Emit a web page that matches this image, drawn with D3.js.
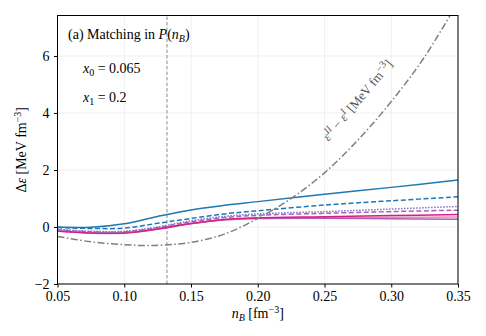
<!DOCTYPE html>
<html>
<head>
<meta charset="utf-8">
<script src="https://cdn.jsdelivr.net/npm/d3@7"></script>
<style>
  body { margin: 0; background: #fff; }
</style>
</head>
<body>
<div id="chart"></div>
<script>
// density grid (fm^-3)
const nB = [0.05, 0.075, 0.10, 0.125, 0.15, 0.175, 0.20, 0.25, 0.30, 0.35];

// Delta epsilon curves [MeV fm^-3]
const blueSolid    = [0.00, -0.01, 0.11, 0.37, 0.60, 0.76, 0.89, 1.15, 1.39, 1.65];
const blueDashed   = [-0.02, -0.05, -0.04, 0.13, 0.30, 0.46, 0.57, 0.77, 0.92, 1.06];
const purpleDotted = [-0.08, -0.15, -0.15, 0.00, 0.22, 0.37, 0.46, 0.54, 0.63, 0.72];
const purpleDashed = [-0.10, -0.17, -0.17, -0.02, 0.18, 0.33, 0.41, 0.48, 0.54, 0.59];
const pinkSolid    = [-0.14, -0.21, -0.21, -0.07, 0.12, 0.26, 0.32, 0.36, 0.40, 0.44];
const lightPink    = [-0.15, -0.22, -0.22, -0.08, 0.11, 0.25, 0.31, 0.33, 0.34, 0.35];
const purpleSolid  = [-0.13, -0.20, -0.20, -0.06, 0.12, 0.25, 0.30, 0.31, 0.29, 0.27];

// epsilon^II - epsilon^I
const nBdiff = [0.05, 0.075, 0.10, 0.115, 0.13, 0.15, 0.175, 0.20, 0.225, 0.25, 0.275, 0.30, 0.325, 0.35];
const epsDiff = [-0.33, -0.52, -0.62, -0.65, -0.63, -0.54, -0.25, 0.30, 1.0, 1.9, 3.05, 4.4, 5.97, 7.9];

const nMatch = 0.132;
const xTicks = [0.05, 0.10, 0.15, 0.20, 0.25, 0.30, 0.35];
const yTicks = [-2, 0, 2, 4, 6];

const series = [
  { vals: lightPink, color: "#ea8cc0", dash: null },
  { vals: purpleSolid, color: "#b45ab4", dash: null },
  { vals: pinkSolid, color: "#d6207f", dash: null },
  { vals: purpleDashed, color: "#a462b8", dash: "5,2.5" },
  { vals: purpleDotted, color: "#8670c6", dash: "1.5,1.5" },
  { vals: blueDashed, color: "#1f77b4", dash: "5,2.5" },
  { vals: blueSolid, color: "#1f77b4", dash: null },
];

const width = 486, height = 336;
const margin = { top: 15.5, right: 28, bottom: 52, left: 57.5 };
const serif = "'Liberation Serif', serif";
const fs = 14, fsSub = 10;

const svg = d3.select("#chart").append("svg")
  .attr("width", width).attr("height", height)
  .attr("font-family", serif);

const x = d3.scaleLinear().domain([0.05, 0.35]).range([margin.left, width - margin.right]);
const y = d3.scaleLinear().domain([-2, 7.42]).range([height - margin.bottom, margin.top]);

svg.append("clipPath").attr("id", "clip").append("rect")
  .attr("x", margin.left).attr("y", margin.top)
  .attr("width", x(0.35) - x(0.05)).attr("height", y(-2) - y(7.42));

// faint grid
const grid = svg.append("g").attr("stroke", "#ececec").attr("stroke-width", 0.8);
grid.selectAll(".gx").data(xTicks).enter().append("line")
  .attr("x1", d => x(d)).attr("x2", d => x(d))
  .attr("y1", y(-2)).attr("y2", y(7.42));
grid.selectAll(".gy").data(yTicks).enter().append("line")
  .attr("x1", x(0.05)).attr("x2", x(0.35))
  .attr("y1", d => y(d)).attr("y2", d => y(d));

const plot = svg.append("g").attr("clip-path", "url(#clip)");

// matching density
plot.append("line")
  .attr("x1", x(nMatch)).attr("x2", x(nMatch))
  .attr("y1", y(-2)).attr("y2", y(7.42))
  .attr("stroke", "#8c8c8c").attr("stroke-width", 1)
  .attr("stroke-dasharray", "3.5,2");

const line = d3.line().x((d, i) => x(nB[i])).y(d => y(d)).curve(d3.curveCatmullRom.alpha(0.5));

plot.selectAll(".curve").data(series).enter().append("path")
  .attr("d", d => line(d.vals))
  .attr("fill", "none")
  .attr("stroke", d => d.color)
  .attr("stroke-width", 1.5)
  .attr("stroke-dasharray", d => d.dash);

const diffLine = d3.line().x((d, i) => x(nBdiff[i])).y(d => y(d)).curve(d3.curveCatmullRom.alpha(0.5));
plot.append("path")
  .attr("d", diffLine(epsDiff))
  .attr("fill", "none")
  .attr("stroke", "#7f7f7f")
  .attr("stroke-width", 1.5)
  .attr("stroke-dasharray", "7,2.5,1.5,2.5");

// axes
const xAxis = svg.append("g")
  .attr("transform", `translate(0,${y(-2)})`)
  .call(d3.axisBottom(x).tickValues(xTicks).tickFormat(d3.format(".2f")).tickSize(3.5).tickSizeOuter(0));
const yAxis = svg.append("g")
  .attr("transform", `translate(${x(0.05)},0)`)
  .call(d3.axisLeft(y).tickValues(yTicks).tickFormat(d => d < 0 ? "\u2212" + Math.abs(d) : d).tickSize(3.5).tickSizeOuter(0));
[xAxis, yAxis].forEach(a => {
  a.attr("font-family", serif);
  a.select(".domain").remove();
  a.selectAll("text").attr("font-size", fs).attr("fill", "#000");
  a.selectAll("line").attr("stroke", "#000");
});
xAxis.selectAll("text").attr("dy", "0.72em");
yAxis.selectAll("text").attr("dx", "-0.1em");

svg.append("rect")
  .attr("x", x(0.05)).attr("y", y(7.42))
  .attr("width", x(0.35) - x(0.05)).attr("height", y(-2) - y(7.42))
  .attr("fill", "none").attr("stroke", "#000").attr("stroke-width", 1);

// labels
const xl = svg.append("text").attr("x", (x(0.05) + x(0.35)) / 2).attr("y", 318)
  .attr("text-anchor", "middle").attr("font-size", fs);
xl.append("tspan").attr("font-style", "italic").text("n");
xl.append("tspan").attr("font-style", "italic").attr("font-size", fsSub).attr("dy", 3).text("B");
xl.append("tspan").attr("dy", -3).text(" [fm");
xl.append("tspan").attr("font-size", fsSub).attr("dy", -5).text("\u22123");
xl.append("tspan").attr("dy", 5).text("]");

const yl = svg.append("text")
  .attr("transform", `translate(26,${(y(-2) + y(7.42)) / 2}) rotate(-90)`)
  .attr("text-anchor", "middle").attr("font-size", fs);
yl.append("tspan").text("\u0394");
yl.append("tspan").attr("font-style", "italic").text("\u03b5");
yl.append("tspan").text(" [MeV fm");
yl.append("tspan").attr("font-size", fsSub).attr("dy", -5).text("\u22123");
yl.append("tspan").attr("dy", 5).text("]");

const t1 = svg.append("text").attr("x", 68).attr("y", 39).attr("font-size", fs);
t1.append("tspan").text("(a) Matching in ");
t1.append("tspan").attr("font-style", "italic").text("P");
t1.append("tspan").text("(");
t1.append("tspan").attr("font-style", "italic").text("n");
t1.append("tspan").attr("font-style", "italic").attr("font-size", fsSub).attr("dy", 3).text("B");
t1.append("tspan").attr("dy", -3).text(")");

const t2 = svg.append("text").attr("x", 83).attr("y", 73).attr("font-size", fs);
t2.append("tspan").attr("font-style", "italic").text("x");
t2.append("tspan").attr("font-size", fsSub).attr("dy", 3).text("0");
t2.append("tspan").attr("dy", -3).text(" = 0.065");

const t3 = svg.append("text").attr("x", 83).attr("y", 102).attr("font-size", fs);
t3.append("tspan").attr("font-style", "italic").text("x");
t3.append("tspan").attr("font-size", fsSub).attr("dy", 3).text("1");
t3.append("tspan").attr("dy", -3).text(" = 0.2");

const t4 = svg.append("text")
  .attr("transform", "translate(361,103) rotate(-50)")
  .attr("text-anchor", "middle").attr("font-size", 13).attr("fill", "#555");
t4.append("tspan").attr("font-style", "italic").text("\u03b5");
t4.append("tspan").attr("font-style", "italic").attr("font-size", fsSub).attr("dy", -5).text("II");
t4.append("tspan").attr("dy", 5).text(" \u2212 ");
t4.append("tspan").attr("font-style", "italic").text("\u03b5");
t4.append("tspan").attr("font-style", "italic").attr("font-size", fsSub).attr("dy", -5).text("I");
t4.append("tspan").attr("dy", 5).text(" [MeV fm");
t4.append("tspan").attr("font-size", fsSub).attr("dy", -5).text("\u22123");
t4.append("tspan").attr("dy", 5).text("]");
</script>
</body>
</html>
